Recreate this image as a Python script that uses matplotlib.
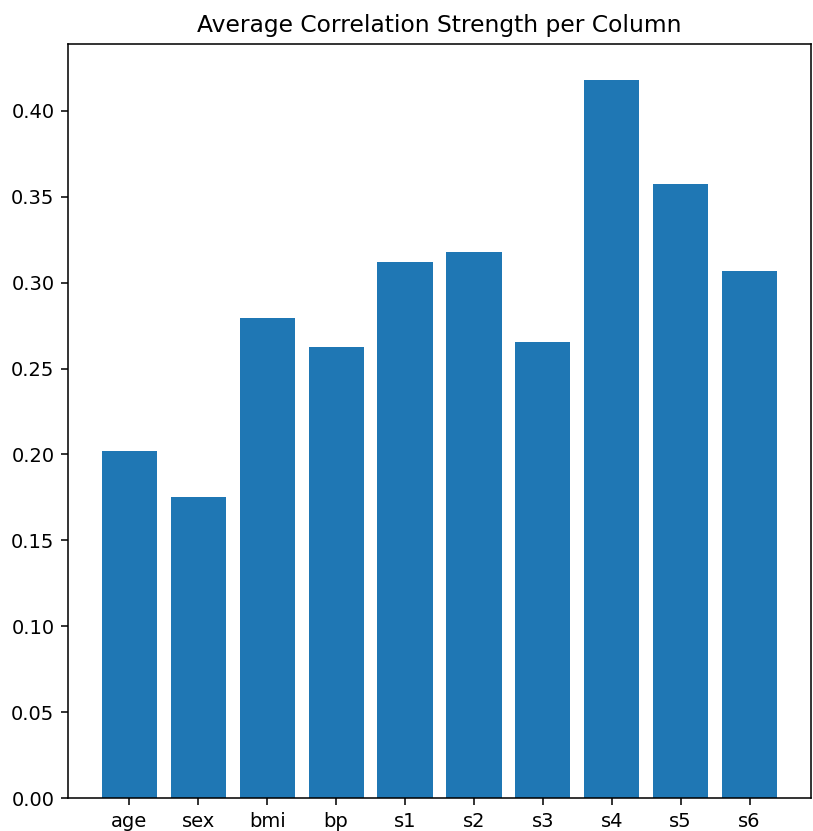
import matplotlib
matplotlib.use("Agg")
import matplotlib.pyplot as plt

columns = ["age", "sex", "bmi", "bp", "s1", "s2", "s3", "s4", "s5", "s6"]
avg_corr = [0.2023, 0.1755, 0.2793, 0.2624, 0.3120, 0.3178, 0.2653, 0.4181, 0.3574, 0.3067]

DPI = 140
fig = plt.figure(figsize=(813/DPI, 831/DPI), dpi=DPI)
ax = fig.add_axes([68/813, 33/831, (811-68)/813, (798-44)/831])
ax.bar(columns, avg_corr, color="#1f77b4")
ax.set_title("Average Correlation Strength per Column", fontsize=12)
ax.tick_params(labelsize=10)
ax.yaxis.set_major_formatter(matplotlib.ticker.FormatStrFormatter("%.2f"))
fig.savefig("out.png", dpi=DPI)
